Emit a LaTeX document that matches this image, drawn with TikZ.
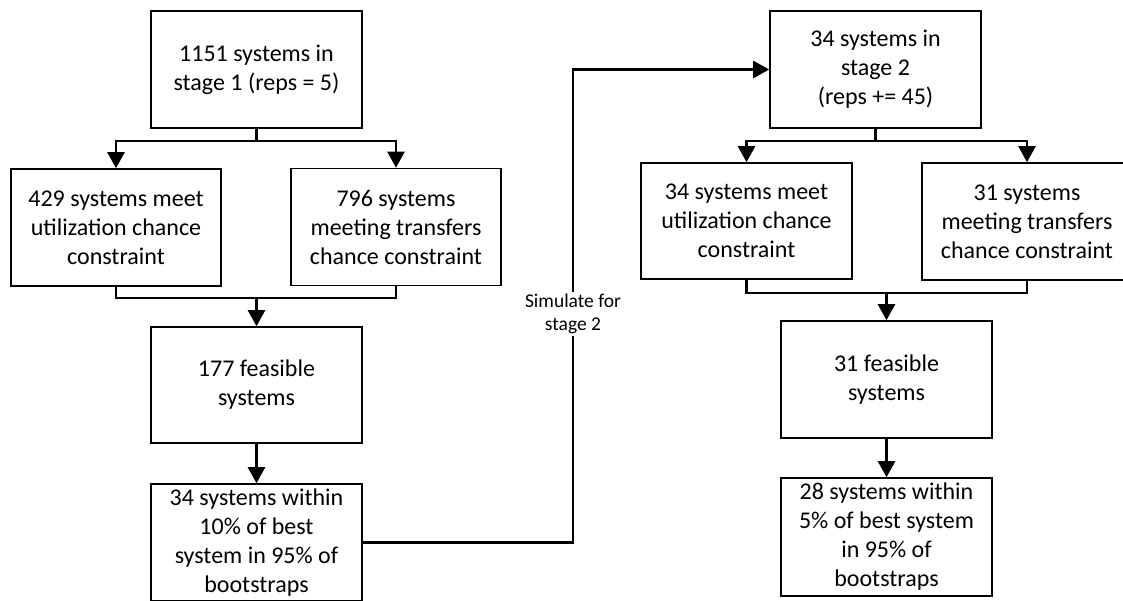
\documentclass[tikz,border=0pt]{standalone}
\usepackage{fontspec}
\setmainfont{Carlito}
\usetikzlibrary{arrows.meta}
\begin{document}
\begin{tikzpicture}[x=1pt,y=-1pt,
  box/.style={draw=black,line width=1.6pt,fill=white,minimum width=211pt,minimum height=117pt,
    align=center,inner sep=2pt,font=\fontsize{24pt}{29pt}\selectfont},
  conn/.style={line width=2.5pt,line cap=rect},
  arr/.style={conn,-{Triangle[width=17pt,length=16pt]}},
  lab/.style={align=center,inner sep=3pt,font=\fontsize{19.5pt}{23.5pt}\selectfont}]
\useasboundingbox (0,0) rectangle (1123,600);
\clip (0,0) rectangle (1123,600);
\fill[white] (0,0) rectangle (1123,600);
% left column
\node[box] (b1) at (256.5,69.5) {1151 systems in\\stage 1 (reps = 5)};
\node[box,minimum width=210pt] (b429) at (116,227.5) {429 systems meet\\utilization chance\\constraint};
\node[box,minimum width=210pt] (b796) at (396,227) {796 systems\\meeting transfers\\chance constraint};
\node[box,minimum height=116pt] (feas1) at (256.5,385) {177 feasible\\systems};
\node[box] (best1) at (256.5,542.5) {34 systems within\\10\% of best\\system in 95\% of\\bootstraps};
% right column
\node[box] (b2) at (875.5,69.5) {34 systems in\\stage 2\\(reps += 45)};
\node[box,minimum height=116pt] (b34m) at (746.5,221) {34 systems meet\\utilization chance\\constraint};
\node[box,minimum width=210pt] (b31m) at (1027,221.5) {31 systems\\meeting transfers\\chance constraint};
\node[box] (feas2) at (886.5,379.5) {31 feasible\\systems};
\node[box,minimum height=118pt] (best2) at (886.5,537) {28 systems within\\5\% of best system\\in 95\% of\\bootstraps};
% label
\node[lab] (sim) at (573,314) {Simulate for\\stage 2};
% coordinates
\coordinate (f1) at (256.5,141);
\coordinate (m1) at (256.5,298);
\coordinate (f2) at (875.5,141);
\coordinate (m2) at (886.5,293);
% left connectors
\draw[conn] (b1.south) -- (f1);
\draw[arr] (f1) -| (b429.north);
\draw[arr] (f1) -| (b796.north);
\draw[conn] (b429.south) |- (m1);
\draw[conn] (b796.south) |- (m1);
\draw[arr] (m1) -- (feas1.north);
\draw[arr] (feas1.south) -- (best1.north);
% stage link
\draw[conn] (best1.east) -| (sim.south);
\draw[arr] (sim.north) |- (b2.west);
% right connectors
\draw[conn] (b2.south) -- (f2);
\draw[arr] (f2) -| (b34m.north);
\draw[arr] (f2) -| (b31m.north);
\draw[conn] (b34m.south) |- (m2);
\draw[conn] (b31m.south) |- (m2);
\draw[arr] (m2) -- (feas2.north);
\draw[arr] (feas2.south) -- (best2.north);
\end{tikzpicture}
\end{document}
